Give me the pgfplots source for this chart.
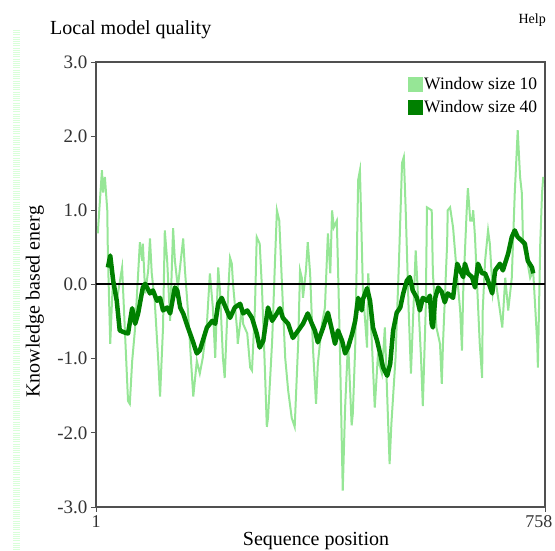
\documentclass[border=0pt]{standalone}
\usepackage{pgfplots}
\pgfplotsset{compat=1.18}
\usepackage{fontspec}
\setmainfont{Liberation Serif}
\definecolor{lightg}{RGB}{150,230,150}
\definecolor{darkg}{RGB}{0,128,0}
\definecolor{axisgray}{RGB}{80,80,80}
\begin{document}
\begin{tikzpicture}
\useasboundingbox (0,0) rectangle (555pt,551pt);
% decorative strip at left
\draw[green!15, line width=7pt, dash pattern=on 1pt off 1.2pt] (16pt,521pt) -- (16pt,0pt);
\node[anchor=west, inner sep=0pt] at (50pt,521pt) {\fontsize{20}{20}\selectfont Local model quality};
\node[anchor=east, inner sep=0pt] at (546pt,531pt) {\fontsize{14}{14}\selectfont Help};
\begin{axis}[
  at={(96pt,44pt)}, anchor=south west,
  scale only axis, width=449pt, height=445pt,
  xmin=1, xmax=758, ymin=-3, ymax=3,
  xtick={1}, extra x ticks={758},
  extra x tick style={xticklabel style={xshift=-6pt}},
  ytick={-3,-2,-1,0,1,2,3},
  /pgf/number format/assume math mode=true,
  yticklabel style={/pgf/number format/fixed, /pgf/number format/precision=1, /pgf/number format/fixed zerofill, font=\fontsize{19}{19}\selectfont, text=black!80},
  xticklabel style={font=\fontsize{18}{18}\selectfont, text=black!80},
  tick align=outside, xtick pos=bottom, ytick pos=left,
  major tick length=5pt,
  tick style={axisgray, line width=0.8pt},
  axis line style={axisgray, line width=2.6pt},
  xlabel={Sequence position},
  ylabel={Knowledge based energ},
  xlabel style={font=\fontsize{20}{20}\selectfont, at={(axis description cs:0.49,-0.077)}, anchor=center},
  ylabel style={font=\fontsize{20}{20}\selectfont, at={(axis description cs:-0.136,0.461)}, anchor=center},
  legend style={at={(axis description cs:0.992,0.975)}, anchor=north east, draw=none, fill=none,
    font=\fontsize{17.5}{17.5}\selectfont, row sep=5pt, inner sep=2pt},
  legend cell align=left,
  clip=true,
]
\addlegendimage{legend image code/.code={\fill[lightg] (-2pt,-7pt) rectangle (12pt,7pt);}}
\addlegendentry{Window size 10}
\addlegendimage{legend image code/.code={\fill[darkg] (-2pt,-7pt) rectangle (12pt,7pt);}}
\addlegendentry{Window size 40}
\addplot[lightg, line width=2pt, forget plot] coordinates {
(4,0.69) (11,1.54) (13,1.24) (16,1.45) (20,1.0) (21,0.42) (25,-0.80) (28,-0.22) (30,0.10) (36,-0.22)
(45,0.23) (55,-1.57) (58,-1.61) (62,-1.03) (67,-0.58) (75,0.57) (79,0.32) (80,0.55) (84,-0.12) (89,0.19)
(92,0.62) (95,0.15) (100,-0.22) (106,-1.03) (109,-1.51) (114,-0.58) (117,0.73) (121,0.32) (126,-0.49) (131,0.76)
(134,0.32) (139,-0.04) (148,0.62) (151,0.19) (156,-0.35) (163,-1.26) (165,-1.51) (171,-1.03) (176,-1.20) (181,-0.99)
(188,-0.53) (193,0.15) (198,-0.31) (202,-0.99) (207,0.23) (210,-0.08) (215,-0.99) (218,-1.26) (224,-0.08) (227,0.36)
(230,0.28) (232,0.01) (239,-0.62) (240,-0.80) (244,-0.53) (247,-0.26) (249,-0.53) (256,-0.66) (261,-1.12) (264,-1.16)
(269,-0.31) (272,0.64) (277,0.55) (281,-0.08) (286,-1.20) (289,-1.92) (291,-1.80) (298,-0.76) (303,0.36) (306,1.0)
(310,0.86) (315,-0.08) (320,-0.99) (325,-1.43) (331,-1.80) (336,-1.92) (342,-0.76) (345,0.19) (348,0.09) (350,-0.18)
(355,0.19) (358,0.57) (362,0.15) (367,-0.89) (372,-1.61) (375,-1.07) (382,-0.53) (387,-0.31) (392,0.69)
(396,0.15) (399,1.0) (402,0.77) (407,0.86) (409,0.23) (412,-0.76) (417,-2.78) (421,-1.66)
(426,-0.76) (432,-1.90) (434,-1.74) (438,-0.85) (443,1.41) (446,1.54) (449,0.59) (451,-0.08) (458,-0.85) (460,0.15)
(466,-0.76) (471,-1.66) (476,-0.99) (483,-1.20) (488,-0.58) (493,-1.74) (496,-2.42) (499,-1.88) (506,-0.99) (512,0.36)
(517,1.64) (520,1.72) (523,1.04) (528,-0.31) (532,-1.20) (533,-0.99) (540,0.46) (542,0.15) (549,-0.99) (552,-1.64)
(557,-0.31) (559,1.04) (567,1.0) (569,0.15) (575,-0.58) (581,-0.80) (584,-1.34) (586,-0.80) (593,0.55) (594,1.0)
(598,1.04) (603,0.77) (610,0.09) (615,-0.35) (618,-0.89) (620,-0.12) (626,1.0) (628,1.30) (632,0.86) (635,0.86)
(637,1.0) (640,0.64) (643,0.09) (648,-0.80) (652,-1.26) (653,-0.35) (657,0.32) (662,0.73) (665,0.55) (670,-0.12)
(674,0.09) (679,-0.18) (686,-0.58) (691,0.09) (696,-0.35) (702,0.09) (707,1.23) (712,2.08) (716,1.45) (719,1.23)
(721,0.55) (728,0.32) (733,0.09) (738,0.19) (745,-0.80) (746,-1.12) (750,0.55) (753,1.23) (755,1.45)
};
\addplot[black, line width=2pt, forget plot] coordinates {(1,0) (758,0)};
\addplot[darkg, line width=4.5pt, line join=round, forget plot] coordinates {
(21,0.23) (25,0.39) (30,0.05) (36,-0.22) (41,-0.62) (50,-0.65) (55,-0.66) (62,-0.32) (67,-0.53) (72,-0.39)
(80,-0.04) (84,0.01) (92,-0.12) (97,-0.08) (104,-0.22) (109,-0.18) (114,-0.35) (121,-0.31) (126,-0.39) (134,-0.04)
(138,-0.08) (143,-0.31) (148,-0.39) (156,-0.58) (164,-0.76) (171,-0.93) (176,-0.89) (181,-0.76) (188,-0.58) (197,-0.49)
(202,-0.53) (207,-0.26) (213,-0.18) (218,-0.28) (227,-0.45) (235,-0.31) (244,-0.26) (249,-0.39) (256,-0.35) (264,-0.45)
(272,-0.66) (277,-0.85) (283,-0.76) (291,-0.31) (298,-0.49) (306,-0.39) (311,-0.32) (316,-0.45) (325,-0.53) (333,-0.72)
(342,-0.62) (350,-0.53) (358,-0.39) (365,-0.53) (370,-0.62) (375,-0.78) (384,-0.58) (392,-0.38) (399,-0.62) (404,-0.80)
(409,-0.62) (416,-0.76) (421,-0.93) (426,-0.85) (433,-0.66) (438,-0.49) (443,-0.18) (449,-0.35) (451,-0.20) (458,-0.05)
(463,-0.22) (468,-0.58) (475,-0.76) (480,-0.93) (485,-1.12) (492,-1.23) (497,-1.07) (502,-0.62) (508,-0.38) (514,-0.31)
(519,-0.12) (525,0.05) (530,0.10) (535,-0.08) (542,-0.18) (547,-0.35) (552,-0.18) (559,-0.22) (564,-0.15) (567,-0.53)
(569,-0.58) (573,-0.18) (578,-0.04) (584,-0.10) (589,-0.24) (594,-0.12) (603,-0.18) (610,0.28) (615,0.19) (620,0.10)
(623,0.28) (628,0.15) (635,0.10) (640,-0.04) (645,0.28) (652,0.15) (657,0.15) (662,0.05) (669,-0.12) (674,0.19)
(682,0.28) (687,0.19) (696,0.42) (702,0.64) (707,0.73) (712,0.64) (719,0.59) (724,0.55) (729,0.32) (736,0.23) (738,0.15)
};
\end{axis}
\end{tikzpicture}
\end{document}
